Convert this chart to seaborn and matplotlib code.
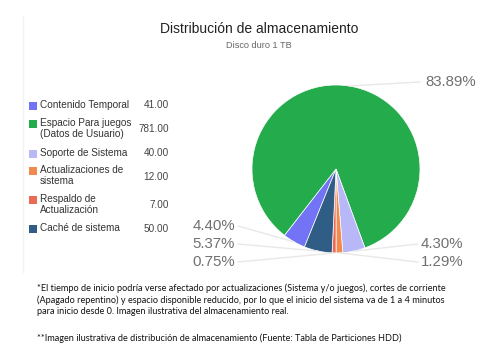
import matplotlib
matplotlib.use("Agg")
import matplotlib.pyplot as plt
import seaborn as sns
import numpy as np
from matplotlib.patches import Rectangle

sns.set_theme(style="white")
plt.rcParams['font.family'] = ['Liberation Sans', 'DejaVu Sans']

categories = ["Contenido Temporal", "Espacio Para juegos\n(Datos de Usuario)", "Soporte de Sistema",
              "Actualizaciones de\nsistema", "Respaldo de\nActualización", "Caché de sistema"]
values = [41.0, 781.0, 40.0, 12.0, 7.0, 50.0]
colors = sns.color_palette(["#7373f5", "#24ab4b", "#b8b8f8", "#f2894f", "#ed6a52", "#2f5d85"])
title = "Distribución de almacenamiento"
subtitle = "Disco duro 1 TB"
footer = ["*El tiempo de inicio podría verse afectado por actualizaciones (Sistema y/o juegos), cortes de corriente",
          "(Apagado repentino) y espacio disponible reducido, por lo que el inicio del sistema va de 1 a 4 minutos",
          "para inicio desde 0. Imagen ilustrativa del almacenamiento real.",
          "**Imagen ilustrativa de distribución de almacenamiento (Fuente: Tabla de Particiones HDD)"]

W, H = 500, 361
fig = plt.figure(figsize=(W / 100, H / 100), dpi=100)
fig.patch.set_facecolor("white")

def fx(x): return x / W
def fy(y): return 1 - y / H

# faint card edge
fig.add_artist(plt.Line2D([fx(23), fx(23)], [fy(16), fy(272)], color="#f2f2f2", lw=1))

fig.text(fx(259), fy(29), title, ha="center", va="center", fontsize=10, color="#222222")
fig.text(fx(259), fy(45), subtitle, ha="center", va="center", fontsize=6.6, color="#666666")

# pie
cx, cy, r = 336, 169, 84
ax = fig.add_axes([fx(cx - r), fy(cy + r), 2 * r / W, 2 * r / H])
total = sum(values)
wedges, _ = ax.pie(values, colors=colors, startangle=-112, counterclock=False, radius=1,
                   wedgeprops=dict(edgecolor="white", linewidth=0.5))
ax.set_xlim(-1, 1); ax.set_ylim(-1, 1); ax.set_aspect("auto"); ax.axis("off")

# labels (pixel positions of label anchor)
label_pos = {0: (235, 226, "right"), 1: (476, 82, "right"), 2: (421, 244, "left"),
             3: (421, 262, "left"), 4: (235, 262, "right"), 5: (235, 244, "right")}
for i, w in enumerate(wedges):
    pct = values[i] / total * 100
    mid = np.deg2rad((w.theta1 + w.theta2) / 2)
    px, py = cx + r * np.cos(mid), cy - r * np.sin(mid)
    lx, ly, ha = label_pos[i]
    if i == 1:
        ex = 420
    elif ha == "right":
        ex = lx + 3
    else:
        ex = lx - 3
    fig.add_artist(plt.Line2D([fx(px), fx(ex)], [fy(py), fy(ly)], color="#e8e8e8", lw=1))
    fig.text(fx(lx), fy(ly), f"{pct:.2f}%", ha=ha, va="center", fontsize=10.8, color="#707070")

# legend
rows = [(102, 105), (120, 129), (150, 153), (167, 177), (196, 205), (225, 229)]
for i, (cat, v) in enumerate(zip(categories, values)):
    top, vc = rows[i]
    fig.add_artist(Rectangle((fx(29), fy(top + 8)), 8 / W, 8 / H, facecolor=colors[i], edgecolor="none"))
    fig.text(fx(40), fy(top - 2), cat, ha="left", va="top", fontsize=7.2, color="#333333", linespacing=1.15)
    fig.text(fx(169), fy(vc), f"{v:.2f}", ha="right", va="center", fontsize=7.2, color="#444444")

# footer
footer_y = [288, 300, 311, 338]
for line, yy in zip(footer, footer_y):
    fig.text(fx(37), fy(yy), line, ha="left", va="center", fontsize=6.6,
             color="#111111", family=["Lato", "DejaVu Sans"])

fig.savefig("out.png", dpi=100)
